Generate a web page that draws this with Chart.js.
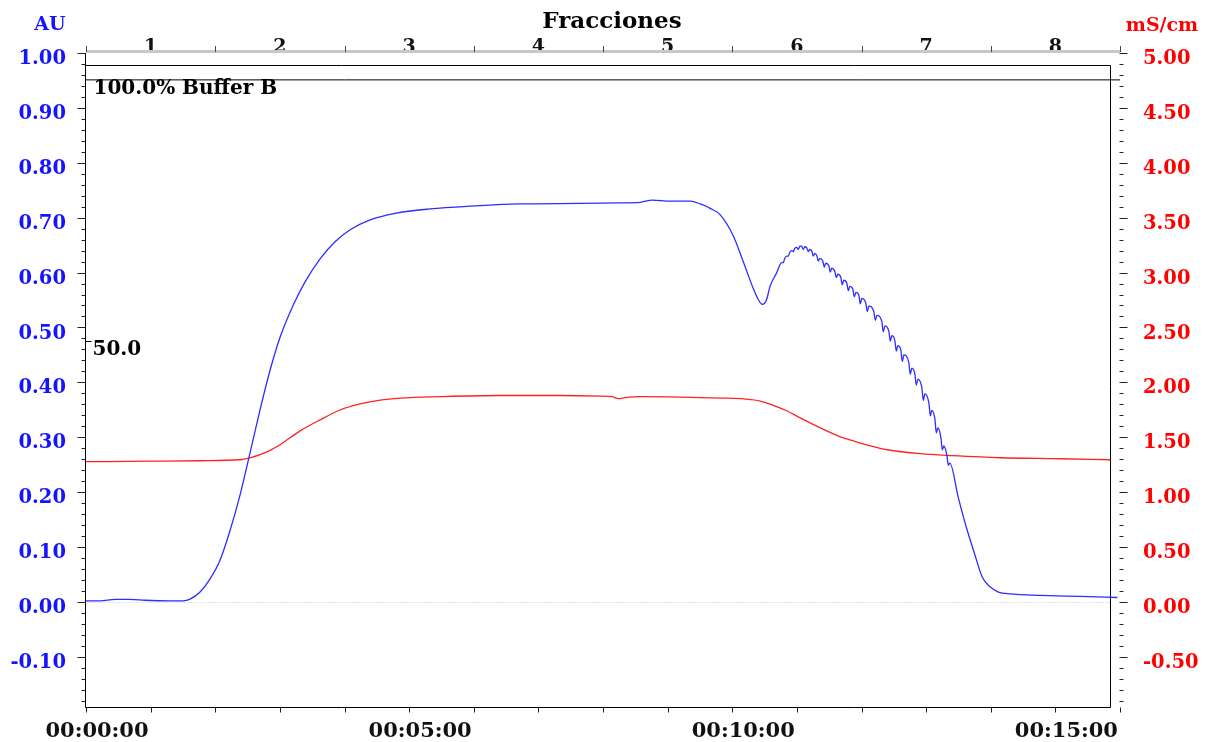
<!DOCTYPE html>
<html>
<head>
<meta charset="utf-8">
<title>Fracciones</title>
<script src="https://cdn.jsdelivr.net/npm/chart.js@4.4.1/dist/chart.umd.min.js"></script>
<style>
  body { margin: 0; background: #fff; }
  canvas { display: block; }
</style>
</head>
<body>
<canvas id="crom" width="1211" height="742"></canvas>
<script>
// tiempo en minutos, absorbancia en AU
const tiempoUV = [
  0, 0.217, 0.449, 0.681, 0.913, 1.300, 1.502, 1.610, 1.765, 1.920, 2.074, 2.229, 2.384, 2.539, 2.693,
  2.848, 3.003, 3.204, 3.390, 3.622, 3.854, 4.087, 4.396, 4.783, 5.325, 5.944, 6.718, 7.647, 8.266,
  8.576, 8.762, 9.040, 9.350, 9.505, 9.659, 9.814, 10.015, 10.170, 10.325, 10.402, 10.464, 10.526,
  10.588, 10.681,
  10.766, 10.789, 10.813, 10.844, 10.867, 10.890, 10.921, 10.944, 10.967, 10.998, 11.022, 11.045,
  11.076, 11.099, 11.122, 11.153, 11.176, 11.200, 11.231, 11.254, 11.277, 11.308, 11.331, 11.354,
  11.401, 11.424, 11.447, 11.494, 11.517, 11.540, 11.587, 11.610, 11.633, 11.680, 11.703, 11.726,
  11.772, 11.796, 11.819, 11.865, 11.889, 11.912, 11.958, 11.981, 12.005, 12.067, 12.090, 12.113,
  12.190, 12.214, 12.237, 12.314, 12.337, 12.361, 12.423, 12.446, 12.469, 12.516, 12.539, 12.562,
  12.608, 12.632, 12.655, 12.732, 12.755, 12.779, 12.825, 12.848, 12.872, 12.933, 12.957, 12.980,
  13.042, 13.065, 13.088, 13.135, 13.158, 13.181, 13.228, 13.251, 13.274, 13.320, 13.344, 13.367,
  13.498, 13.622, 13.746, 13.870, 13.994, 14.118, 14.303, 14.768, 15.387, 15.960
];
const absorbancia = [
  0.002, 0.002, 0.0045, 0.0045, 0.003, 0.002, 0.002, 0.005, 0.018, 0.042, 0.076, 0.130, 0.195, 0.272, 0.350,
  0.422, 0.482, 0.540, 0.583, 0.625, 0.656, 0.678, 0.696, 0.708, 0.716, 0.721, 0.725, 0.726, 0.727,
  0.728, 0.732, 0.730, 0.730, 0.725, 0.717, 0.705, 0.667, 0.620, 0.571, 0.551, 0.542, 0.549,
  0.576, 0.598,
  0.618, 0.618, 0.626, 0.630, 0.630, 0.637, 0.640, 0.638, 0.644, 0.646, 0.642, 0.648,
  0.648, 0.642, 0.647, 0.645, 0.638, 0.642, 0.639, 0.630, 0.635, 0.631, 0.621, 0.626,
  0.621, 0.610, 0.617, 0.613, 0.601, 0.608, 0.602, 0.591, 0.597, 0.591, 0.578, 0.586,
  0.581, 0.567, 0.575, 0.570, 0.556, 0.564, 0.559, 0.543, 0.553, 0.544, 0.529, 0.539,
  0.529, 0.513, 0.522, 0.511, 0.492, 0.503, 0.493, 0.475, 0.485, 0.476, 0.457, 0.467,
  0.459, 0.438, 0.450, 0.436, 0.415, 0.426, 0.416, 0.395, 0.406, 0.391, 0.367, 0.379,
  0.363, 0.339, 0.349, 0.334, 0.308, 0.317, 0.300, 0.277, 0.284, 0.268, 0.249, 0.253,
  0.190, 0.136, 0.089, 0.045, 0.027, 0.018, 0.0145, 0.012, 0.010, 0.008
];

// conductividad en mS/cm
const tiempoCond = [
  0, 0.991, 1.765, 2.384, 2.539, 2.693, 2.848, 3.003, 3.158, 3.313, 3.622, 3.932, 4.241, 4.551,
  4.861, 5.480, 6.409, 7.337, 7.957, 8.142, 8.235, 8.344, 8.576, 9.195, 9.814, 10.201, 10.433,
  10.666, 10.851, 11.053, 11.362, 11.672, 11.873, 12.136, 12.399, 12.910, 13.421, 14.149, 15.077, 15.851
];
const conductividad = [
  1.277, 1.282, 1.286, 1.295, 1.313, 1.341, 1.381, 1.431, 1.495, 1.558, 1.658, 1.748, 1.803, 1.839,
  1.857, 1.870, 1.880, 1.880, 1.875, 1.870, 1.852, 1.861, 1.870, 1.866, 1.857, 1.848, 1.830,
  1.784, 1.739, 1.676, 1.585, 1.504, 1.467, 1.422, 1.386, 1.350, 1.332, 1.313, 1.304, 1.295
];

// % buffer B
const tiempoB = [0, 16];
const bufferB = [100, 100];

const fracciones = ['1', '2', '3', '4', '5', '6', '7', '8'];
const centrosFraccion = [1, 3, 5, 7, 9, 11, 13, 15];
const limitesFraccion = [0, 2, 4, 6, 8, 10, 12, 14, 16];

const fuente = "'DejaVu Serif', serif";
const finCaja = 15.85;
const techoCaja = 0.978;

function puntos(xs, ys) {
  return xs.map((t, i) => ({ x: t, y: ys[i] }));
}

function reloj(v) {
  const m = String(v).padStart(2, '0');
  return '00:' + m + ':00';
}

const marco = {
  id: 'marco',
  beforeDatasetsDraw(chart) {
    const ctx = chart.ctx;
    const { x, y } = chart.scales;
    const izq = Math.round(x.getPixelForValue(0)) - 0.5;
    const der = Math.round(x.getPixelForValue(finCaja)) + 0.5;
    const arr = Math.round(y.getPixelForValue(techoCaja)) + 0.5;
    const aba = Math.round(y.getPixelForValue(y.min)) + 0.5;
    const cero = Math.round(y.getPixelForValue(0)) + 0.5;
    ctx.save();
    ctx.strokeStyle = '#c4c4c4';
    ctx.lineWidth = 1;
    ctx.setLineDash([1, 2]);
    ctx.beginPath();
    ctx.moveTo(izq, cero);
    ctx.lineTo(der, cero);
    ctx.stroke();
    ctx.setLineDash([]);
    ctx.strokeStyle = '#000';
    ctx.beginPath();
    ctx.moveTo(izq, Math.round(y.getPixelForValue(1.0)));
    ctx.lineTo(izq, aba);
    ctx.lineTo(der, aba);
    ctx.moveTo(izq, arr);
    ctx.lineTo(der, arr);
    ctx.lineTo(der, aba);
    ctx.stroke();
    ctx.restore();
  },
  afterDraw(chart) {
    const ctx = chart.ctx;
    const { x, y, yR, yB } = chart.scales;
    const izq = Math.round(x.getPixelForValue(0)) - 0.5;
    const ejeDer = Math.round(x.getPixelForValue(16)) - 0.5;
    const aba = Math.round(y.getPixelForValue(y.min)) + 0.5;
    const tope = Math.round(y.getPixelForValue(1.0));
    ctx.save();
    ctx.lineWidth = 1;
    ctx.strokeStyle = '#222';
    ctx.beginPath();
    for (let k = -9; k <= 50; k++) {
      const py = Math.round(y.getPixelForValue(k * 0.02)) + 0.5;
      const len = k % 5 === 0 ? 8 : 4;
      ctx.moveTo(izq - len, py);
      ctx.lineTo(izq, py);
    }
    for (let k = -9; k <= 50; k++) {
      const py = Math.round(yR.getPixelForValue(k * 0.1)) + 0.5;
      const len = k % 5 === 0 ? 8 : 4;
      ctx.moveTo(ejeDer, py);
      ctx.lineTo(ejeDer + len, py);
    }
    for (let m = 0; m <= 16; m++) {
      const px = Math.round(x.getPixelForValue(m)) + 0.5;
      ctx.moveTo(px, aba);
      ctx.lineTo(px, aba + 5);
    }
    ctx.stroke();

    // eje de fracciones
    const x0 = x.getPixelForValue(0);
    const x1 = x.getPixelForValue(16);
    ctx.fillStyle = '#c8c8c8';
    ctx.fillRect(x0, tope - 3, x1 - x0, 3);
    ctx.strokeStyle = '#444';
    ctx.beginPath();
    limitesFraccion.forEach(v => {
      const px = Math.round(x.getPixelForValue(v)) + 0.5;
      ctx.moveTo(px, tope - 7);
      ctx.lineTo(px, tope - 1);
    });
    ctx.stroke();

    // marca 50 %B
    const p50 = Math.round(yB.getPixelForValue(50)) + 0.5;
    ctx.strokeStyle = '#000';
    ctx.beginPath();
    ctx.moveTo(izq, p50);
    ctx.lineTo(izq + 6, p50);
    ctx.stroke();

    ctx.textBaseline = 'alphabetic';
    ctx.fillStyle = '#000';
    ctx.font = '900 23px ' + fuente;
    ctx.textAlign = 'center';
    ctx.fillText('Fracciones', 612, 28);

    ctx.font = 'bold 19px ' + fuente;
    ctx.fillStyle = '#1414ff';
    ctx.fillText('AU', 50, 30);
    ctx.fillStyle = '#ff0000';
    ctx.fillText('mS/cm', 1162, 31);

    ctx.fillStyle = '#000';
    ctx.textAlign = 'left';
    ctx.font = 'bold 20px ' + fuente;
    const p100 = yB.getPixelForValue(100);
    ctx.fillText('100.0% Buffer B', izq + 8, p100 + 14);
    ctx.fillText('50.0', izq + 7, p50 + 13);
    ctx.restore();
  }
};

new Chart(document.getElementById('crom'), {
  type: 'line',
  data: {
    datasets: [
      {
        label: 'UV',
        data: puntos(tiempoUV, absorbancia),
        yAxisID: 'y',
        borderColor: '#2d2dff',
        borderWidth: 1.3,
        pointRadius: 0,
        cubicInterpolationMode: 'monotone'
      },
      {
        label: 'Cond',
        data: puntos(tiempoCond, conductividad),
        yAxisID: 'yR',
        borderColor: '#ff2222',
        borderWidth: 1.3,
        pointRadius: 0,
        cubicInterpolationMode: 'monotone'
      },
      {
        label: '%B',
        data: puntos(tiempoB, bufferB),
        yAxisID: 'yB',
        borderColor: '#000',
        borderWidth: 1,
        pointRadius: 0
      }
    ]
  },
  options: {
    responsive: false,
    animation: false,
    devicePixelRatio: 1,
    layout: { padding: 0 },
    plugins: {
      legend: { display: false },
      tooltip: { enabled: false }
    },
    scales: {
      x: {
        type: 'linear',
        position: 'bottom',
        min: 0,
        max: 16,
        grid: { display: false, drawTicks: false },
        border: { display: false },
        ticks: {
          stepSize: 1,
          autoSkip: false,
          maxRotation: 0,
          padding: 12,
          labelOffset: 11,
          color: '#111',
          font: { family: fuente, size: 21, weight: 'bold' },
          callback: v => (v % 5 === 0 ? reloj(v) : '')
        },
        afterFit: s => { s.height = 31; }
      },
      xTop: {
        type: 'linear',
        position: 'top',
        min: 0,
        max: 16,
        grid: { display: false, drawTicks: false },
        border: { display: false },
        afterBuildTicks: s => { s.ticks = centrosFraccion.map(v => ({ value: v })); },
        ticks: {
          autoSkip: false,
          maxRotation: 0,
          padding: -5,
          color: '#111',
          font: { family: fuente, size: 19, weight: 'bold' },
          callback: (v, i) => fracciones[i]
        },
        afterFit: s => { s.height = 53; }
      },
      y: {
        position: 'left',
        min: -0.192,
        max: 1.0,
        grid: { display: false, drawTicks: false },
        border: { display: false },
        ticks: {
          stepSize: 0.1,
          includeBounds: false,
          autoSkip: false,
          padding: 20,
          labelOffset: 6,
          color: '#1414ff',
          font: { family: fuente, size: 19.5, weight: 'bold' },
          callback: v => v.toFixed(2)
        },
        afterFit: s => { s.width = 86; }
      },
      yR: {
        position: 'right',
        min: -0.96,
        max: 5.0,
        grid: { display: false, drawTicks: false },
        border: { display: false },
        ticks: {
          stepSize: 0.5,
          includeBounds: false,
          autoSkip: false,
          padding: 23,
          labelOffset: 6,
          color: '#ff0000',
          font: { family: fuente, size: 19.5, weight: 'bold' },
          callback: v => v.toFixed(2)
        },
        afterFit: s => { s.width = 91; }
      },
      yB: {
        display: false,
        min: -20.19,
        max: 105.15
      }
    }
  },
  plugins: [marco]
});
</script>
</body>
</html>
